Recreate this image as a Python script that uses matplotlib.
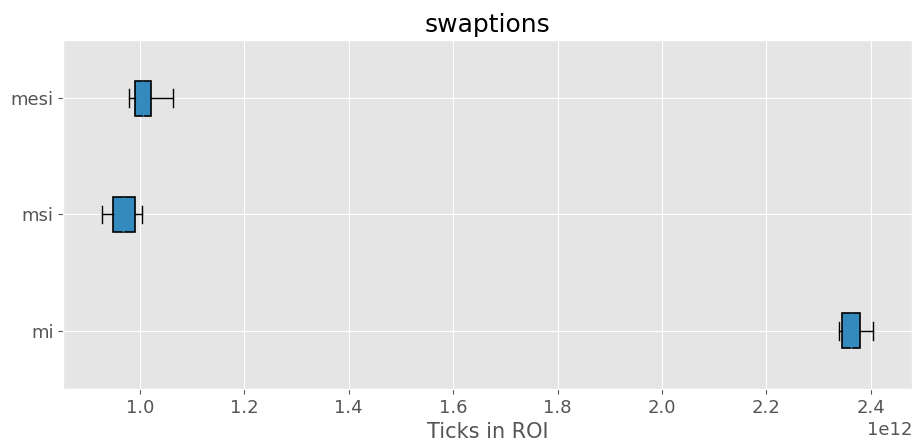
"""Boxplot of ticks in ROI for swaptions."""
from matplotlib import pyplot as plt

plt.style.use('ggplot')

labels = ['mi', 'msi', 'mesi']
whislo = [2.339e12, 0.927e12, 0.979e12]
q1 = [2.345e12, 0.948e12, 0.990e12]
med = [2.362e12, 0.967e12, 1.005e12]
q3 = [2.379e12, 0.990e12, 1.021e12]
whishi = [2.405e12, 1.004e12, 1.064e12]

stats = []
for i in range(len(labels)):
    stats.append({'label': labels[i], 'whislo': whislo[i], 'q1': q1[i],
                  'med': med[i], 'q3': q3[i], 'whishi': whishi[i],
                  'fliers': []})

fig, ax = plt.subplots(figsize=(9.17, 4.45), dpi=100)
bp = ax.bxp(stats, vert=False, patch_artist=True, widths=0.3,
            showfliers=False)
for box in bp['boxes']:
    box.set_facecolor('#348ABD')
    box.set_edgecolor('black')
    box.set_linewidth(1.2)
for w in bp['whiskers'] + bp['caps']:
    w.set_color('black')
    w.set_linewidth(1.0)

ax.set_title('swaptions', fontsize=18)
ax.set_xlabel('Ticks in ROI', fontsize=15)
ax.tick_params(axis='both', labelsize=13)
ax.xaxis.get_offset_text().set_fontsize(13)
ax.margins(x=0.05)

fig.subplots_adjust(left=0.069, right=0.9945, top=0.91, bottom=0.126)
plt.savefig('out.png', dpi=100)
